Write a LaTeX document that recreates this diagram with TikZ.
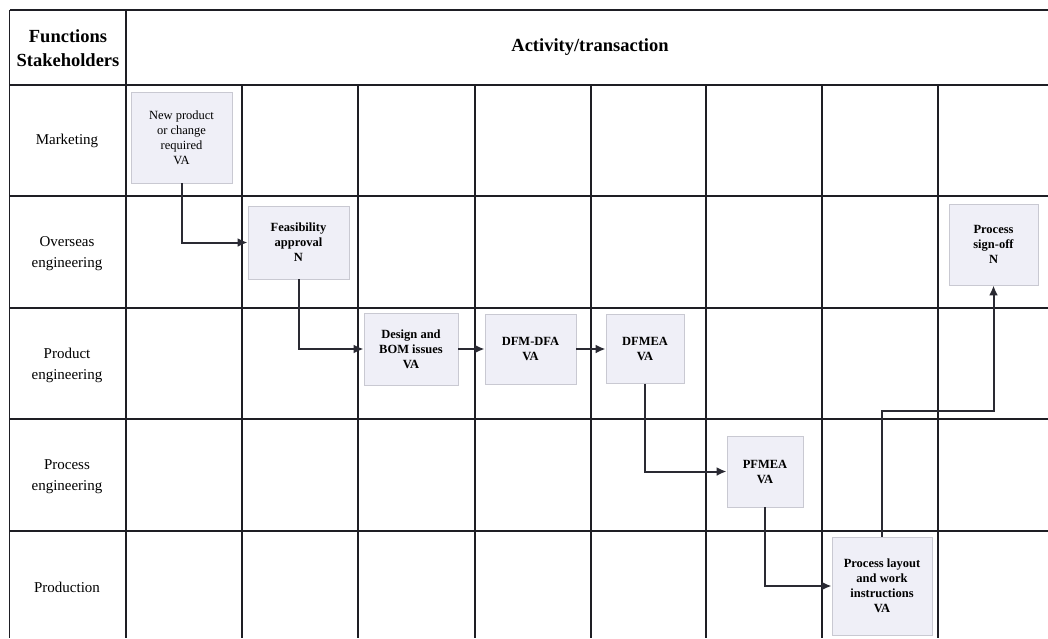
\documentclass[tikz,border=0pt]{standalone}
\usepackage{fontspec}
\setmainfont{Liberation Serif}
\usetikzlibrary{arrows.meta}
\definecolor{boxfill}{HTML}{EFEFF7}
\definecolor{boxline}{HTML}{C9C9D2}
\definecolor{gridline}{HTML}{1E1E24}
\definecolor{flowline}{HTML}{2A2A33}
\begin{document}
\begin{tikzpicture}[x=1pt,y=-1pt,
  gridrule/.style={draw=gridline,line width=1.3pt},
  actbox/.style={rectangle,fill=boxfill,draw=boxline,line width=0.9pt,
    align=center,inner sep=2pt,font=\fontsize{12.5}{15}\selectfont\bfseries},
  plainact/.style={actbox,font=\fontsize{12.5}{15}\selectfont},
  lanelabel/.style={align=center,font=\fontsize{15}{21}\selectfont},
  headlabel/.style={align=center,font=\fontsize{18.5}{24}\selectfont\bfseries},
  flow/.style={draw=flowline,line width=2pt,
    -{Latex[length=10pt,width=9pt]}}]
\useasboundingbox (0,0) rectangle (1048,638);
\fill[white] (0,0) rectangle (1048,638);

% table frame and lanes
\draw[gridrule] (9.5,10) -- (1048,10);
\draw[gridrule] (9.5,10) -- (9.5,638);
\draw[gridrule] (126,10) -- (126,638);
\foreach \y in {85,196,308,419,531}
  \draw[gridrule] (9.5,\y) -- (1048,\y);
\foreach \x in {242,358,475,591,706,822,938}
  \draw[gridrule] (\x,85) -- (\x,638);

% header cells
\node[headlabel] (hfun) at (68,48) {Functions\\Stakeholders};
\node[headlabel] (hact) at (590,47) {Activity/transaction};

% stakeholder lanes
\node[lanelabel] (lmk) at (67,141) {Marketing};
\node[lanelabel] (lov) at (67,254) {Overseas\\engineering};
\node[lanelabel] (lpe) at (67,365) {Product\\engineering};
\node[lanelabel] (lpr) at (67,477) {Process\\engineering};
\node[lanelabel] (lpd) at (67,587) {Production};

% activities
\node[plainact,minimum width=101pt,minimum height=91pt] (np) at (181.5,137.5)
  {New product\\or change\\required\\VA};
\node[actbox,minimum width=101pt,minimum height=73pt] (fe) at (298.5,242.5)
  {Feasibility\\approval\\N};
\node[actbox,minimum width=94pt,minimum height=72pt] (db) at (411,349)
  {Design and\\BOM issues\\VA};
\node[actbox,minimum width=91pt,minimum height=70pt] (dfa) at (530.5,349)
  {DFM-DFA\\VA};
\node[actbox,minimum width=78pt,minimum height=69pt] (dfm) at (645,349)
  {DFMEA\\VA};
\node[actbox,minimum width=89pt,minimum height=81pt] (so) at (993.5,244.5)
  {Process\\sign-off\\N};
\node[actbox,minimum width=76pt,minimum height=71pt] (pf) at (765,471.5)
  {PFMEA\\VA};
\node[actbox,minimum width=100pt,minimum height=98pt] (pl) at (882,586)
  {Process layout\\and work\\instructions\\VA};

% flow of the transaction
\coordinate (bend) at (pl.north |- 0,411);
\draw[flow] (np.south) |- (fe.west);
\draw[flow] (fe.south) |- (db.west);
\draw[flow] (db.east) -- (dfa.west);
\draw[flow] (dfa.east) -- (dfm.west);
\draw[flow] (dfm.south) |- (pf.west);
\draw[flow] (pf.south) |- (pl.west);
\draw[flow] (pl.north) -- (bend) -| (so.south);
\end{tikzpicture}
\end{document}
